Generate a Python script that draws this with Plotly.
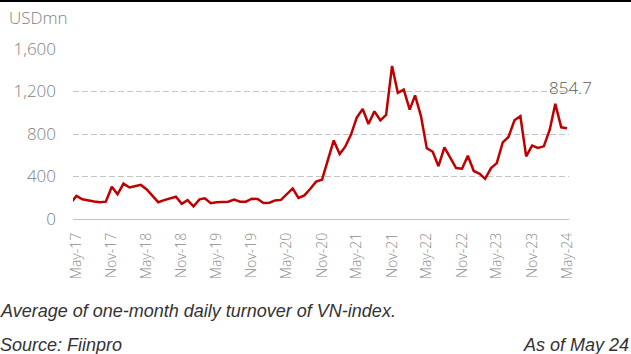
import pandas as pd
import plotly.graph_objects as go

# Monthly average of one-month daily turnover, VN-index (USD mn), Apr-2017 .. May-2024
months = pd.date_range("2017-04-01", periods=86, freq="MS")
turnover = [
    149,
    217, 185, 173, 165, 158, 163, 304, 233, 333, 297, 309, 321,   # May-17 .. Apr-18
    280, 222, 158, 178, 191, 209, 143, 178, 118, 185, 194, 148,   # May-18 .. Apr-19
    158, 157, 162, 182, 163, 163, 191, 188, 151, 154, 175, 180,   # May-19 .. Apr-20
    236, 288, 198, 222, 285, 352, 370, 545, 740, 612, 678, 794,   # May-20 .. Apr-21
    955, 1035, 894, 1013, 929, 980, 1441, 1187, 1218, 1029, 1163, 966,  # May-21 .. Apr-22
    667, 633, 497, 674, 571, 479, 473, 595, 452, 425, 378, 479,   # May-22 .. Apr-23
    526, 721, 772, 929, 967, 589, 690, 668, 684, 841, 1084, 863,  # May-23 .. Apr-24
    854.7,                                                        # May-24
]
y_ticks = [0, 400, 800, 1200, 1600]
unit_label = "USDmn"
note_text = "Average of one-month daily turnover of VN-index."
source_text = "Source: Fiinpro"
asof_text = "As of May 24"

W, H = 631, 354
ML, MR, MT, MB = 73, 62, 49, 135
PW, PH = W - ML - MR, H - MT - MB


def px_x(x):
    return (x - ML) / PW


def px_y(y):
    return (H - MB - y) / PH


CHART_FONT = "Open Sans"
RED = "#C00000"
GRID = "#c4c4c4"

fig = go.Figure()
fig.add_trace(go.Scatter(
    x=months, y=turnover, mode="lines",
    line=dict(color=RED, width=2.5),
    hoverinfo="x+y", showlegend=False,
))

# value label on the latest observation
fig.add_annotation(
    x=months[-1], y=turnover[-1], xref="x", yref="y",
    text=f"{turnover[-1]:.1f}", showarrow=False,
    xanchor="center", yanchor="middle", xshift=3, yshift=41,
    font=dict(family=CHART_FONT, size=17, color="#595959", weight=300),
)

# unit label above the value axis
fig.add_annotation(
    x=px_x(7), y=px_y(18), xref="paper", yref="paper",
    text=unit_label, showarrow=False, xanchor="left", yanchor="middle",
    font=dict(family=CHART_FONT, size=17, color="#7f7f7f", weight=300),
)

# footnotes
foot_font = dict(family="Liberation Sans", size=18, color="#333333", style="italic")
fig.add_annotation(
    x=px_x(-2), y=px_y(311), xref="paper", yref="paper",
    text=note_text, showarrow=False, xanchor="left", yanchor="middle", font=foot_font,
)
fig.add_annotation(
    x=px_x(-2), y=px_y(345), xref="paper", yref="paper",
    text=source_text, showarrow=False, xanchor="left", yanchor="middle", font=foot_font,
)
fig.add_annotation(
    x=px_x(631), y=px_y(345), xref="paper", yref="paper",
    text=asof_text, showarrow=False, xanchor="right", yanchor="middle", font=foot_font,
)

# thin dark rule along the top edge
fig.add_shape(
    type="rect", xref="paper", yref="paper",
    x0=px_x(-2), x1=px_x(W + 2), y0=px_y(2), y1=px_y(0),
    fillcolor="#000000", line=dict(width=0), layer="above",
)

fig.update_layout(
    width=W, height=H,
    margin=dict(l=ML, r=MR, t=MT, b=MB, pad=0),
    paper_bgcolor="white", plot_bgcolor="white",
    xaxis=dict(
        type="date",
        range=["2017-04-12 20:00", "2024-05-11 10:00"],
        tick0="2017-05-01", dtick="M6", tickformat="%b-%y",
        tickangle=-90, ticks="", showgrid=False, zeroline=False,
        showline=False, ticklabelstandoff=10,
        tickfont=dict(family=CHART_FONT, size=14, color="#8c8c8c", weight=300),
    ),
    yaxis=dict(
        range=[0, 1600], tickvals=y_ticks, tickformat=",",
        ticks="", showline=False,
        showgrid=True, gridcolor=GRID, gridwidth=1, griddash="6px,3px",
        zeroline=True, zerolinecolor=GRID, zerolinewidth=1,
        ticklabelstandoff=16,
        tickfont=dict(family=CHART_FONT, size=17, color="#7f7f7f", weight=300),
    ),
)

fig.write_html("out.html")
